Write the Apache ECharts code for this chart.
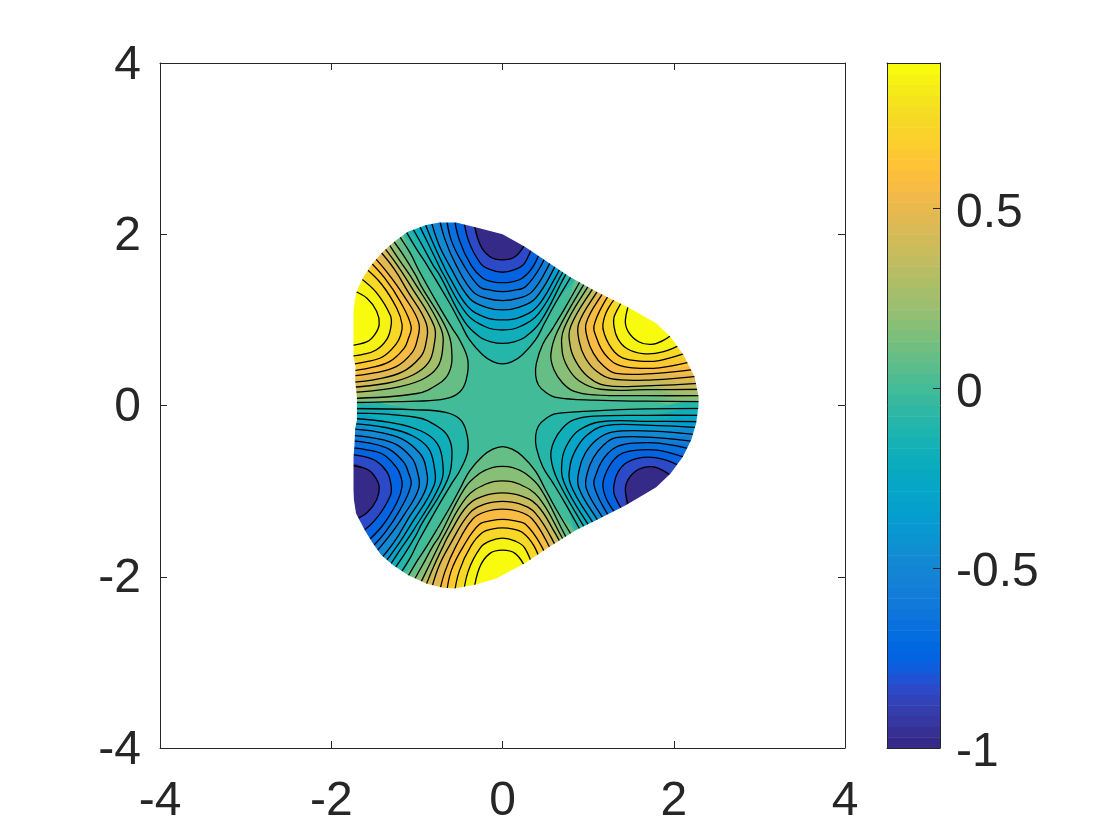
<!DOCTYPE html>
<html><head><meta charset="utf-8">
<style>html,body{margin:0;padding:0;background:#fff}#c{width:1120px;height:840px}</style>
<script src="https://cdn.jsdelivr.net/npm/echarts@6/dist/echarts.min.js"></script>
</head><body><div id="c"></div>
<script>
const colorbarTicks=[-1,-0.5,0,0.5];
const colorMin=-1, colorMax=0.905;
const parula=[[.2081,.1663,.5292],[.2116,.1898,.5777],[.2123,.2138,.627],[.2081,.2386,.6771],[.1959,.2645,.7279],[.1707,.2919,.7792],[.1253,.3242,.8303],[.0591,.3598,.8683],[.0117,.3875,.882],[.006,.4086,.8828],[.0165,.4266,.8786],[.0329,.443,.872],[.0498,.4586,.8641],[.0629,.4737,.8554],[.0723,.4887,.8467],[.0779,.504,.8384],[.0793,.52,.8312],[.0749,.5375,.8263],[.0641,.557,.824],[.0488,.5772,.8228],[.0343,.5966,.8199],[.0265,.6137,.8135],[.0239,.6287,.8038],[.0231,.6418,.7913],[.0228,.6535,.7768],[.0267,.6642,.7607],[.0384,.6743,.7436],[.059,.6838,.7254],[.0843,.6928,.7062],[.1133,.7015,.6859],[.1453,.7098,.6646],[.1801,.7177,.6424],[.2178,.725,.6193],[.2586,.7317,.5954],[.3022,.7376,.5712],[.3482,.7424,.5473],[.3953,.7459,.5244],[.442,.7481,.5033],[.4871,.7491,.484],[.53,.7491,.4661],[.5709,.7485,.4494],[.6099,.7473,.4337],[.6473,.7456,.4188],[.6834,.7435,.4044],[.7184,.7411,.3905],[.7525,.7384,.3768],[.7858,.7356,.3633],[.8185,.7327,.3498],[.8507,.7299,.336],[.8824,.7274,.3217],[.9139,.7258,.3063],[.945,.7261,.2886],[.9739,.7314,.2666],[.9938,.7455,.2403],[.999,.7653,.2164],[.9955,.7861,.1967],[.988,.8066,.1794],[.9789,.8271,.1633],[.9697,.8481,.1475],[.9626,.8705,.1309],[.9589,.8949,.1132],[.9598,.9218,.0948],[.9661,.9514,.0755],[.9763,.9831,.0538]];

// contour magnitudes, outermost (index 0) to innermost (index 9)
const levelMagnitudes=[0.0475,0.1425,0.2375,0.3325,0.4275,0.5225,0.6175,0.7125,0.8075,0.9025];

// domain outline, clockwise from the right-hand lobe
const outline=[[2.29,0],[2.262,-.208],[2.204,-.403],[2.107,-.598],[1.963,-.793],[1.795,-.956],[1.445,-1.163],[1.094,-1.34],[.861,-1.455],[.549,-1.65],[.257,-1.844],[-.035,-2.0],[-.074,-2.02],[-.308,-2.09],[-.561,-2.136],[-.697,-2.128],[-.892,-2.078],[-1.106,-1.98],[-1.28,-1.863],[-1.417,-1.747],[-1.515,-1.61],[-1.61,-1.455],[-1.71,-1.26],[-1.735,-1.104],[-1.74,-.987],[-1.74,-.6],[-1.73,-.48],[-1.72,-.267],[-1.70,-.17],[-1.70,0],[-1.70,.10],[-1.72,.28],[-1.717,.454],[-1.74,.57],[-1.74,.92],[-1.74,1.116],[-1.71,1.31],[-1.67,1.407],[-1.61,1.524],[-1.515,1.661],[-1.398,1.797],[-1.262,1.914],[-1.106,2.03],[-.892,2.108],[-.736,2.136],[-.541,2.136],[-.269,2.07],[0,2.0],[.257,1.856],[.549,1.661],[.783,1.505],[1.094,1.33],[1.464,1.147],[1.795,.96],[1.963,.80],[2.114,.59],[2.243,.337],[2.29,.103]];

// sector around 90 degrees (negative)
const topCurves=[
[[-1.17,2.11],[-1.0,1.82],[-.88,1.637],[-.62,1.20],[-.49,.96],[-.385,.765],[-.23,.59],[-.113,.512],[0,.485],[.113,.512],[.23,.59],[.385,.765],[.49,.96],[.62,1.20],[.88,1.637]],
[[-1.09,2.14],[-.94,1.875],[-.81,1.637],[-.736,1.525],[-.444,.979],[-.269,.804],[-.12,.74],[0,.726],[.12,.74],[.269,.804],[.444,.979],[.736,1.525],[.81,1.637]],
[[-1.0,2.16],[-.87,1.895],[-.745,1.637],[-.697,1.544],[-.424,1.077],[-.2,.92],[0,.882],[.2,.92],[.424,1.077],[.697,1.544],[.745,1.637],[.80,1.74]],
[[-.93,2.19],[-.81,1.895],[-.69,1.637],[-.62,1.50],[-.405,1.155],[-.2,1.03],[0,.999],[.2,1.03],[.405,1.155],[.62,1.50],[.69,1.637],[.74,1.78]],
[[-.85,2.22],[-.75,1.895],[-.62,1.637],[-.386,1.252],[-.2,1.15],[0,1.116],[.2,1.15],[.386,1.252],[.62,1.637],[.69,1.82]],
[[-.75,2.24],[-.67,1.934],[-.54,1.637],[-.347,1.33],[-.18,1.25],[0,1.225],[.18,1.25],[.347,1.33],[.54,1.637],[.62,1.85]],
[[-.66,2.25],[-.60,1.934],[-.452,1.637],[-.269,1.388],[-.13,1.345],[0,1.33],[.13,1.345],[.269,1.388],[.452,1.637],[.55,1.88]],
[[-.57,2.25],[-.505,1.934],[-.366,1.637],[-.23,1.486],[-.11,1.445],[0,1.435],[.11,1.445],[.23,1.486],[.366,1.637],[.47,1.9]],
[[-.46,2.24],[-.40,1.934],[-.257,1.66],[-.15,1.59],[0,1.556],[.15,1.59],[.257,1.66],[.37,1.93]],
[[-.34,2.2],[-.269,1.895],[-.15,1.74],[0,1.70],[.15,1.74],[.27,1.895],[.31,2.0]]];

// sector around 270 degrees (positive)
const bottomCurves=[
[[-1.17,-2.11],[-1.0,-1.82],[-.88,-1.637],[-.62,-1.20],[-.49,-.96],[-.385,-.765],[-.23,-.59],[-.113,-.51],[0,-.48],[.113,-.51],[.23,-.59],[.385,-.765],[.49,-.96],[.62,-1.20],[.88,-1.637]],
[[-1.09,-2.14],[-.94,-1.875],[-.81,-1.637],[-.736,-1.525],[-.444,-.97],[-.269,-.795],[-.12,-.725],[0,-.71],[.12,-.725],[.269,-.795],[.444,-.97],[.736,-1.525],[.81,-1.637]],
[[-1.0,-2.16],[-.87,-1.895],[-.745,-1.637],[-.697,-1.544],[-.424,-1.077],[-.2,-.92],[0,-.88],[.2,-.92],[.424,-1.077],[.697,-1.544],[.745,-1.637],[.80,-1.74]],
[[-.93,-2.19],[-.81,-1.895],[-.69,-1.637],[-.62,-1.50],[-.405,-1.165],[-.2,-1.05],[0,-1.02],[.2,-1.05],[.405,-1.165],[.62,-1.50],[.69,-1.637],[.74,-1.78]],
[[-.85,-2.22],[-.75,-1.895],[-.62,-1.637],[-.386,-1.26],[-.2,-1.15],[0,-1.12],[.2,-1.15],[.386,-1.26],[.62,-1.637],[.69,-1.82]],
[[-.75,-2.24],[-.67,-1.934],[-.54,-1.637],[-.347,-1.325],[-.18,-1.235],[0,-1.21],[.18,-1.235],[.347,-1.325],[.54,-1.637],[.62,-1.85]],
[[-.66,-2.25],[-.60,-1.934],[-.452,-1.637],[-.269,-1.388],[-.13,-1.345],[0,-1.33],[.13,-1.345],[.269,-1.388],[.452,-1.637],[.55,-1.88]],
[[-.57,-2.25],[-.505,-1.934],[-.366,-1.637],[-.23,-1.48],[-.11,-1.44],[0,-1.43],[.11,-1.44],[.23,-1.48],[.366,-1.637],[.47,-1.9]],
[[-.46,-2.24],[-.40,-1.934],[-.257,-1.66],[-.15,-1.585],[0,-1.55],[.15,-1.585],[.257,-1.66],[.37,-1.93]],
[[-.34,-2.2],[-.269,-1.895],[-.15,-1.73],[0,-1.69],[.15,-1.73],[.27,-1.895],[.31,-2.0]]];

// sector around 150 degrees (positive)
const upperLeftCurves=[
[[-1.24,2.03],[-1.076,1.776],[-.978,1.58],[-.729,1.137],[-.585,.898],[-.50,.765],[-.405,.53],[-.424,.30],[-.50,.158],[-.663,.08],[-1.0,.05],[-1.80,.035]],
[[-1.33,2.0],[-1.154,1.751],[-1.013,1.52],[-.953,1.40],[-.645,.874],[-.59,.57],[-.627,.38],[-.736,.26],[-1.0,.14],[-1.80,.084]],
[[-1.38,1.97],[-1.206,1.70],[-1.045,1.464],[-.721,.906],[-.70,.65],[-.764,.441],[-.95,.298],[-1.3,.2],[-1.80,.15]],
[[-1.44,1.92],[-1.236,1.649],[-1.079,1.406],[-.798,.928],[-.80,.70],[-.865,.50],[-1.047,.356],[-1.35,.26],[-1.80,.21]],
[[-1.48,1.86],[-1.266,1.597],[-1.114,1.344],[-.891,.96],[-.90,.70],[-.966,.558],[-1.164,.395],[-1.45,.31],[-1.80,.265]],
[[-1.54,1.78],[-1.34,1.547],[-1.151,1.28],[-.978,.965],[-1.0,.75],[-1.061,.6125],[-1.242,.454],[-1.5,.38],[-1.80,.34]],
[[-1.58,1.71],[-1.375,1.487],[-1.192,1.21],[-1.068,.927],[-1.10,.78],[-1.152,.665],[-1.32,.512],[-1.55,.44],[-1.80,.40]],
[[-1.62,1.62],[-1.414,1.419],[-1.235,1.135],[-1.172,.943],[-1.19,.82],[-1.243,.7175],[-1.398,.57],[-1.6,.51],[-1.80,.475]],
[[-1.66,1.49],[-1.472,1.318],[-1.309,1.05],[-1.302,.928],[-1.348,.778],[-1.476,.648],[-1.64,.595],[-1.80,.575]],
[[-1.74,1.34],[-1.58,1.25],[-1.47,1.10],[-1.44,.95],[-1.49,.83],[-1.58,.745],[-1.80,.695]]];

// sector around 210 degrees (negative)
const lowerLeftCurves=[
[[-1.24,-2.03],[-1.076,-1.776],[-.978,-1.58],[-.729,-1.137],[-.585,-.898],[-.50,-.765],[-.405,-.53],[-.424,-.30],[-.50,-.158],[-.663,-.08],[-1.0,-.05],[-1.80,-.035]],
[[-1.33,-2.0],[-1.154,-1.751],[-1.013,-1.52],[-.953,-1.40],[-.645,-.874],[-.59,-.57],[-.627,-.38],[-.736,-.26],[-1.0,-.14],[-1.80,-.09]],
[[-1.38,-1.97],[-1.206,-1.70],[-1.045,-1.464],[-.721,-.906],[-.70,-.65],[-.764,-.441],[-.95,-.298],[-1.3,-.2],[-1.80,-.146]],
[[-1.44,-1.92],[-1.236,-1.649],[-1.079,-1.406],[-.798,-.928],[-.80,-.70],[-.865,-.50],[-1.047,-.356],[-1.35,-.26],[-1.80,-.208]],
[[-1.48,-1.86],[-1.266,-1.597],[-1.114,-1.344],[-.891,-.96],[-.90,-.70],[-.966,-.558],[-1.164,-.395],[-1.45,-.31],[-1.80,-.27]],
[[-1.54,-1.78],[-1.34,-1.547],[-1.151,-1.28],[-.978,-.965],[-1.0,-.75],[-1.061,-.6125],[-1.242,-.454],[-1.5,-.38],[-1.80,-.345]],
[[-1.58,-1.71],[-1.375,-1.487],[-1.192,-1.21],[-1.068,-.927],[-1.10,-.78],[-1.152,-.665],[-1.32,-.512],[-1.55,-.44],[-1.80,-.41]],
[[-1.62,-1.62],[-1.414,-1.419],[-1.235,-1.135],[-1.172,-.943],[-1.19,-.82],[-1.243,-.7175],[-1.398,-.57],[-1.6,-.515],[-1.80,-.49]],
[[-1.66,-1.49],[-1.472,-1.318],[-1.309,-1.05],[-1.302,-.928],[-1.348,-.778],[-1.476,-.648],[-1.64,-.59],[-1.80,-.57]],
[[-1.74,-1.34],[-1.58,-1.25],[-1.47,-1.10],[-1.44,-.95],[-1.49,-.83],[-1.58,-.745],[-1.80,-.695]]];

// sector around 30 degrees (positive)
const upperRightCurves=[
[[.978,1.58],[.729,1.137],[.585,.898],[.47,.716],[.396,.495],[.387,.354],[.42,.24],[.50,.158],[.626,.096],[1.073,.062],[1.674,.05],[2.40,.045]],
[[1.1,1.66],[1.013,1.52],[.645,.874],[.565,.60],[.60,.42],[.70,.266],[.83,.169],[1.07,.125],[1.689,.115],[2.40,.115]],
[[1.15,1.63],[1.045,1.464],[.721,.906],[.697,.633],[.764,.441],[.897,.287],[1.145,.19],[1.686,.185],[2.40,.19]],
[[1.2,1.6],[1.079,1.406],[.798,.928],[.792,.688],[.865,.50],[.992,.342],[1.2,.235],[1.666,.23],[2.40,.265]],
[[1.25,1.56],[1.114,1.344],[.891,.96],[.896,.748],[.966,.558],[1.096,.402],[1.277,.31],[1.75,.30],[2.35,.35]],
[[1.31,1.50],[1.151,1.28],[.978,.965],[.9925,.781],[1.061,.6125],[1.1725,.469],[1.325,.375],[1.795,.376],[2.30,.43]],
[[1.36,1.45],[1.192,1.21],[1.068,.927],[1.10,.785],[1.152,.665],[1.23,.56],[1.336,.48],[1.52,.44],[1.83,.44],[2.28,.53]],
[[1.42,1.38],[1.235,1.135],[1.172,.943],[1.196,.817],[1.243,.7175],[1.306,.627],[1.402,.555],[1.58,.52],[1.83,.525],[2.22,.64]],
[[1.47,1.33],[1.309,1.05],[1.302,.925],[1.348,.778],[1.452,.665],[1.64,.605],[1.87,.625],[2.14,.74]],
[[1.50,1.25],[1.435,1.0],[1.47,.86],[1.59,.745],[1.737,.714],[1.873,.757],[2.05,.885]]];

// sector around 330 degrees (negative)
const lowerRightCurves=[
[[.978,-1.58],[.729,-1.137],[.585,-.898],[.47,-.716],[.396,-.495],[.387,-.354],[.42,-.24],[.50,-.158],[.626,-.096],[1.073,-.062],[1.674,-.04],[2.40,-.033]],
[[1.1,-1.66],[1.013,-1.52],[.645,-.874],[.565,-.60],[.60,-.42],[.70,-.266],[.83,-.169],[1.07,-.125],[1.689,-.115],[2.40,-.115]],
[[1.15,-1.63],[1.045,-1.464],[.721,-.906],[.697,-.633],[.764,-.441],[.897,-.287],[1.145,-.19],[1.686,-.185],[2.40,-.19]],
[[1.2,-1.6],[1.079,-1.406],[.798,-.928],[.792,-.688],[.865,-.50],[.992,-.342],[1.2,-.235],[1.666,-.23],[2.40,-.265]],
[[1.25,-1.56],[1.114,-1.344],[.891,-.96],[.896,-.748],[.966,-.558],[1.096,-.402],[1.277,-.31],[1.75,-.30],[2.35,-.35]],
[[1.31,-1.50],[1.151,-1.28],[.978,-.965],[.9925,-.781],[1.061,-.6125],[1.1725,-.469],[1.325,-.375],[1.795,-.376],[2.30,-.43]],
[[1.36,-1.45],[1.192,-1.21],[1.068,-.927],[1.10,-.785],[1.152,-.665],[1.23,-.56],[1.336,-.48],[1.52,-.44],[1.83,-.44],[2.28,-.53]],
[[1.42,-1.38],[1.235,-1.135],[1.172,-.943],[1.196,-.817],[1.243,-.7175],[1.306,-.627],[1.402,-.555],[1.58,-.52],[1.83,-.525],[2.22,-.64]],
[[1.47,-1.33],[1.309,-1.05],[1.302,-.925],[1.348,-.778],[1.452,-.665],[1.64,-.605],[1.87,-.625],[2.14,-.74]],
[[1.50,-1.25],[1.435,-1.0],[1.47,-.86],[1.59,-.745],[1.737,-.714],[1.873,-.757],[2.05,-.885]]];

const sectors=[
 {curves:topCurves,sign:-1,away:[0,3.9]},
 {curves:bottomCurves,sign:1,away:[0,-3.9]},
 {curves:upperLeftCurves,sign:1,away:[-3.5,2]},
 {curves:lowerLeftCurves,sign:-1,away:[-3.5,-2]},
 {curves:upperRightCurves,sign:1,away:[3.5,2]},
 {curves:lowerRightCurves,sign:-1,away:[3.5,-2]}
];

function colorOf(v){
  const t=(v-colorMin)/(colorMax-colorMin);
  const c=parula[Math.max(0,Math.min(63,Math.floor(t*64)))];
  return 'rgb('+c.map(a=>Math.round(a*255)).join(',')+')';
}
const fills=[], lines=[];
sectors.forEach(s=>{
  s.curves.forEach((pts,k)=>{
    const next=levelMagnitudes[k+1];
    const band=next!==undefined?levelMagnitudes[k]+0.4*(next-levelMagnitudes[k]):(s.sign>0?colorMax:-colorMin);
    fills.push({pts:pts.concat([s.away]),value:s.sign*band});
    lines.push({pts:pts,value:s.sign*levelMagnitudes[k]});
  });
});
const SMOOTH=0.4;
const axisText={color:'#262626',fontFamily:'"Liberation Sans",Arial,sans-serif',fontSize:48};
const lineStyle={color:'#262626',width:1};
function xAx(grid,pos,labels){return {type:'value',gridIndex:grid,position:pos,min:-4,max:4,interval:2,z:10,splitLine:{show:false},
  axisLine:{show:true,onZero:false,lineStyle},axisTick:{show:true,inside:true,length:7,lineStyle},
  axisLabel:{show:labels,margin:30,...axisText,formatter:v=>String(v),hideOverlap:false}};}
function yAx(grid,pos,labels){return {type:'value',gridIndex:grid,position:pos,min:-4,max:4,interval:2,z:10,splitLine:{show:false},
  axisLine:{show:true,onZero:false,lineStyle},axisTick:{show:true,inside:true,length:7,lineStyle},
  axisLabel:{show:labels,margin:19,...axisText,formatter:v=>String(v),verticalAlign:'top',lineHeight:5,hideOverlap:false}};}
function cbX(pos){return {type:'value',gridIndex:1,position:pos,min:0,max:1,z:10,splitLine:{show:false},axisLabel:{show:false},axisTick:{show:false},
  axisLine:{show:true,onZero:false,lineStyle}};}
function cbY(pos,labels){return {type:'value',gridIndex:1,position:pos,min:colorMin,max:colorMax,z:10,splitLine:{show:false},
  axisLine:{show:true,onZero:false,lineStyle},
  axisTick:{show:labels,inside:true,length:7,lineStyle,customValues:colorbarTicks},
  axisLabel:{show:labels,margin:16,...axisText,customValues:colorbarTicks,formatter:v=>String(v),verticalAlign:'top',lineHeight:10,hideOverlap:false}};}

const polyCoords=(api,pts)=>pts.map(p=>api.coord(p));
const chart=echarts.init(document.getElementById('c'),null,{renderer:'canvas'});
chart.setOption({
  animation:false,
  backgroundColor:'#fff',
  grid:[{left:160,top:63,width:685,height:685},{left:887,top:63,width:53,height:685}],
  xAxis:[xAx(0,'bottom',true),xAx(0,'top',false),cbX('bottom'),cbX('top')],
  yAxis:[yAx(0,'left',true),yAx(0,'right',false),cbY('right',true),cbY('left',false)],
  series:[
   {type:'custom',coordinateSystem:'cartesian2d',xAxisIndex:0,yAxisIndex:0,z:1,silent:true,clip:true,data:[[0]],
    renderItem:(p,api)=>({type:'polygon',shape:{points:polyCoords(api,outline)},style:{fill:colorOf(0)}})},
   {type:'custom',coordinateSystem:'cartesian2d',xAxisIndex:0,yAxisIndex:0,z:2,silent:true,clip:true,data:fills.map((f,i)=>[i]),
    renderItem:(p,api)=>{const f=fills[p.dataIndex];return {type:'polygon',shape:{points:polyCoords(api,f.pts),smooth:SMOOTH},style:{fill:colorOf(f.value)}};}},
   {type:'custom',coordinateSystem:'cartesian2d',xAxisIndex:0,yAxisIndex:0,z:3,silent:true,clip:true,data:lines.map((f,i)=>[i]),
    renderItem:(p,api)=>{const f=lines[p.dataIndex];return {type:'polyline',shape:{points:polyCoords(api,f.pts),smooth:SMOOTH},style:{fill:null,stroke:'#000',lineWidth:1.3}};}},
   {type:'custom',coordinateSystem:'cartesian2d',xAxisIndex:0,yAxisIndex:0,z:4,silent:true,clip:true,data:[[0]],
    renderItem:(p,api)=>{
      const ring=[[4,0],[4,4],[-4,4],[-4,-4],[4,-4],[4,0]].concat(outline,[outline[0],[4,0]]);
      return {type:'polygon',shape:{points:polyCoords(api,ring)},style:{fill:'#fff'}};
    }},
   {type:'custom',coordinateSystem:'cartesian2d',xAxisIndex:2,yAxisIndex:2,z:2,silent:true,data:parula.map((c,i)=>[i]),
    renderItem:(p,api)=>{
      const i=p.dataIndex, step=(colorMax-colorMin)/64;
      const a=api.coord([0,colorMin+i*step]), b=api.coord([1,colorMin+(i+1)*step]);
      return {type:'rect',shape:{x:a[0],y:b[1],width:b[0]-a[0],height:a[1]-b[1]+0.5},style:{fill:colorOf(colorMin+(i+0.5)*step)}};
    }}
  ]
});
</script></body></html>
